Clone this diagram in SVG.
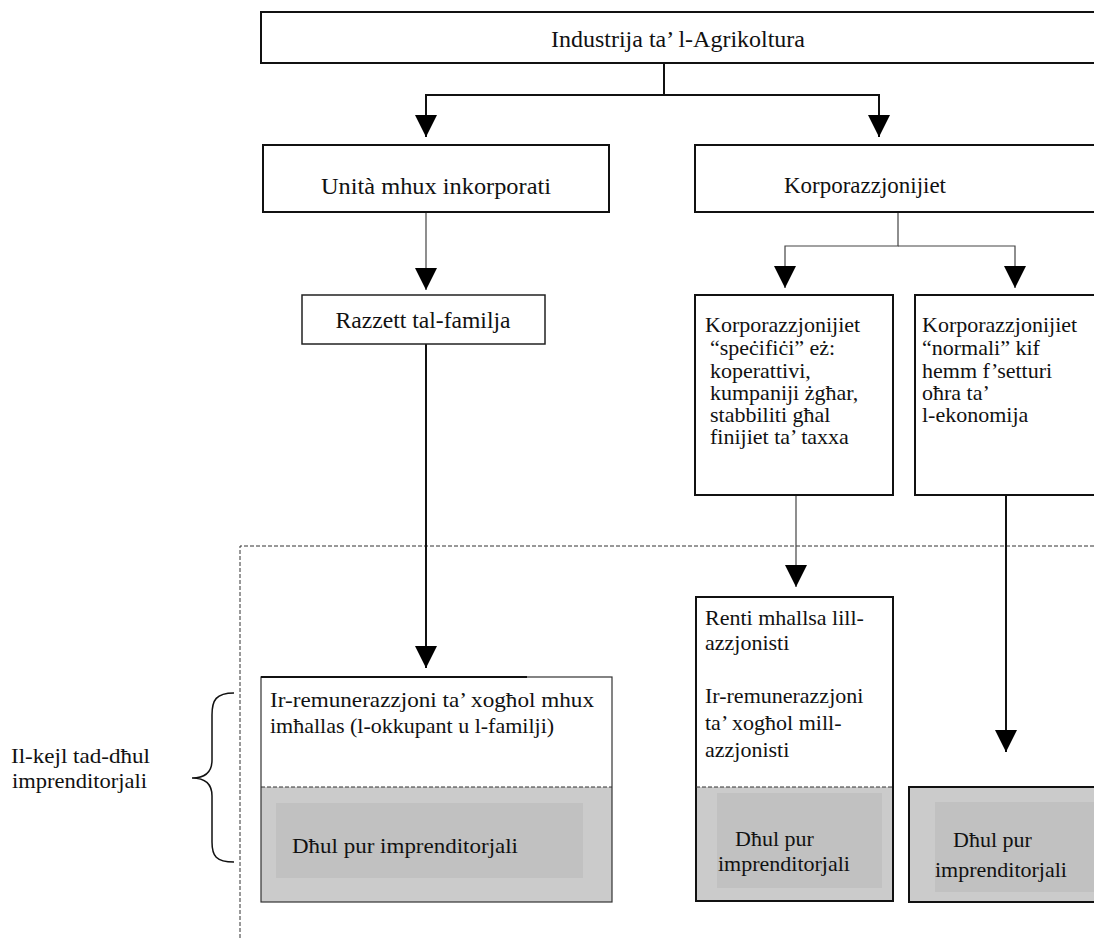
<svg xmlns="http://www.w3.org/2000/svg" width="1094" height="938" viewBox="0 0 1094 938">
<style>
.box{fill:#fff;stroke:#111;stroke-width:2}
.thin{fill:#fff;stroke:#222;stroke-width:1.5}
.gray{fill:#cbcbcb}
.inner{fill:#c1c1c1}
.pal{font-family:"Liberation Serif","DejaVu Serif",serif;font-size:24px;fill:#111}
.t{font-family:"Liberation Serif",serif;font-size:22px;fill:#111}
.conn{fill:none;stroke:#111;stroke-width:2}
.conn1{fill:none;stroke:#444;stroke-width:1.2}
.dash{fill:none;stroke:#333;stroke-width:1;stroke-dasharray:4 2}
</style>
<defs>
<marker id="ah" markerUnits="userSpaceOnUse" markerWidth="22" markerHeight="22" refX="22" refY="11" orient="auto">
<path d="M0,0 L22,11 L0,22 Z" fill="#000"/>
</marker>
</defs>
<rect width="1094" height="938" fill="#fff"/>

<path class="dash" d="M240,938 V546 H1094"/>

<g id="connectors">
<path class="conn" d="M664,62 V95 H426 V137" marker-end="url(#ah)"/>
<path class="conn" d="M664,95 H879 V137" marker-end="url(#ah)"/>
<path class="conn1" d="M426,212 V290" marker-end="url(#ah)"/>
<path class="conn1" d="M898,212 V246 H785 V288" marker-end="url(#ah)"/>
<path class="conn1" d="M898,246 H1015 V288" marker-end="url(#ah)"/>
<path class="conn" d="M426,344 V668" marker-end="url(#ah)"/>
<path class="conn1" d="M796,495 V587" marker-end="url(#ah)"/>
<path class="conn" d="M1006,495 V752" marker-end="url(#ah)"/>
</g>

<g id="industrija">
<rect class="box" x="261" y="12" width="845" height="51"/>
<text class="pal" x="678" y="47" text-anchor="middle" font-size="22" textLength="254" lengthAdjust="spacingAndGlyphs">Industrija ta’ l-Agrikoltura</text>
</g>

<g id="unita">
<rect class="box" x="263" y="145" width="346" height="67"/>
<text class="pal" x="436" y="194" text-anchor="middle" textLength="230" lengthAdjust="spacingAndGlyphs">Unità mhux inkorporati</text>
</g>

<g id="korporazzjonijiet">
<rect class="box" x="695" y="145" width="410" height="67"/>
<text class="pal" x="865" y="193" text-anchor="middle" textLength="162" lengthAdjust="spacingAndGlyphs">Korporazzjonijiet</text>
</g>

<g id="razzett">
<rect class="thin" x="302" y="295" width="243" height="49"/>
<text class="pal" x="423" y="328" text-anchor="middle" textLength="175" lengthAdjust="spacingAndGlyphs">Razzett tal-familja</text>
</g>

<g id="specifici">
<rect class="box" x="695" y="295" width="198" height="200"/>
<text class="t" x="705" y="332">Korporazzjonijiet</text>
<text class="t" x="710" y="355">“speċifiċi” eż:</text>
<text class="t" x="710" y="378">koperattivi,</text>
<text class="t" x="710" y="400">kumpaniji żgħar,</text>
<text class="t" x="710" y="422">stabbiliti għal</text>
<text class="t" x="710" y="444">finijiet ta’ taxxa</text>
</g>

<g id="normali">
<rect class="box" x="915" y="295" width="190" height="200"/>
<text class="t" x="922" y="332">Korporazzjonijiet</text>
<text class="t" x="922" y="355">“normali” kif</text>
<text class="t" x="922" y="378">hemm f’setturi</text>
<text class="t" x="922" y="400">oħra ta’</text>
<text class="t" x="922" y="422">l-ekonomija</text>
</g>

<g id="dhul-familja">
<rect x="261" y="677" width="351" height="225" fill="#fff"/>
<rect class="gray" x="261" y="787" width="351" height="115"/>
<rect class="inner" x="276" y="803" width="307" height="75"/>
<rect x="261" y="677" width="351" height="225" fill="none" stroke="#333" stroke-width="1.2"/>
<path d="M261,677 H527" stroke="#111" stroke-width="2"/>
<path class="dash" d="M261,787 H612"/>
<text class="t" x="270" y="707" textLength="324" lengthAdjust="spacingAndGlyphs">Ir-remunerazzjoni ta’ xogħol mhux</text>
<text class="t" x="270" y="733">imħallas (l-okkupant u l-familji)</text>
<text class="t" x="292" y="853" textLength="226" lengthAdjust="spacingAndGlyphs">Dħul pur imprenditorjali</text>
</g>

<g id="dhul-specifici">
<rect x="696" y="597" width="197" height="304" fill="#fff"/>
<rect class="gray" x="696" y="787" width="197" height="114"/>
<rect class="inner" x="717" y="793" width="165" height="95"/>
<rect x="696" y="597" width="197" height="304" fill="none" stroke="#111" stroke-width="2"/>
<path class="dash" d="M696,787 H893"/>
<text class="t" x="705" y="625">Renti mhallsa lill-</text>
<text class="t" x="705" y="650">azzjonisti</text>
<text class="t" x="705" y="703">Ir-remunerazzjoni</text>
<text class="t" x="705" y="730">ta’ xogħol mill-</text>
<text class="t" x="705" y="757">azzjonisti</text>
<text class="t" x="735" y="846">Dħul pur</text>
<text class="t" x="718" y="871">imprenditorjali</text>
</g>

<g id="dhul-normali">
<rect class="gray" x="909" y="787" width="195" height="115" stroke="#111" stroke-width="2"/>
<rect class="inner" x="935" y="802" width="165" height="90"/>
<text class="t" x="953" y="847">Dħul pur</text>
<text class="t" x="935" y="877">imprenditorjali</text>
</g>

<g id="kejl">
<path d="M234,693 C216,693 212,700 212,715 L212,760 C212,772 206,778 192,778 C206,778 212,784 212,796 L212,842 C212,856 216,862 234,862" fill="none" stroke="#111" stroke-width="1.5"/>
<text class="t" x="11" y="763" textLength="139" lengthAdjust="spacingAndGlyphs">Il-kejl tad-dħul</text>
<text class="t" x="12" y="788" textLength="135" lengthAdjust="spacingAndGlyphs">imprenditorjali</text>
</g>
</svg>
